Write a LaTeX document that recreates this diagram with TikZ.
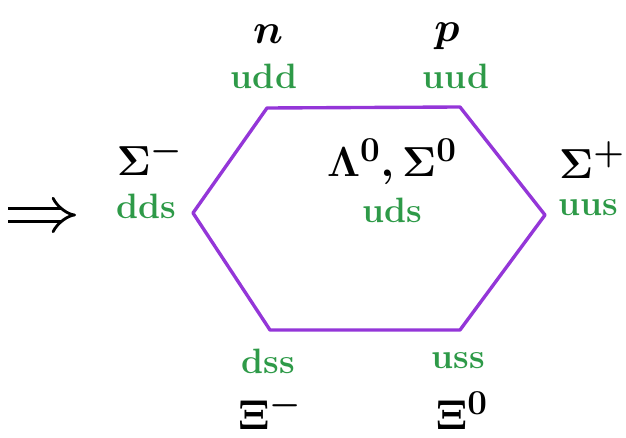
\documentclass[tikz,border=0pt]{standalone}
\usepackage{xcolor,tikz,amsmath}
\usetikzlibrary{arrows.meta,positioning}
\definecolor{quark}{HTML}{2E9A48}
\definecolor{octet}{HTML}{9436D8}

\begin{document}
\begin{tikzpicture}[x=0.025cm, y=-0.025cm]
  \tikzset{
    qk/.style={text=quark, font=\LARGE\bfseries, scale=1.45, transform shape, inner sep=1pt},
    hadron/.style={font=\Huge\boldmath, scale=1.2, transform shape, inner sep=1pt}
  }
  \useasboundingbox (0,0) rectangle (626,438);
  % corners of the octet
  \coordinate (TL) at (267,108);
  \coordinate (TR) at (460,107);
  \coordinate (R) at (545,215);
  \coordinate (BR) at (460,330);
  \coordinate (BL) at (270,330);
  \coordinate (L) at (193,213);
  \draw[octet, line width=2.4pt, line join=round] (TL) -- (TR) -- (R) -- (BR) -- (BL) -- (L) -- cycle;
  % quark content and particle names
  \node[qk] (udd) at (264,76) {udd};
  \node[hadron] (n) at (268,34) {$n$};
  \node[qk] (uud) at (456,76) {uud};
  \node[hadron] (p) at (447,36) {$p$};
  \node[qk] (dds) at (146,206) {dds};
  \node[hadron] (Sm) at (150,157) {$\Sigma^-$};
  \node[qk] (uds) at (392,210) {uds};
  \node[hadron] (L0) at (392,162) {$\Lambda^0,\Sigma^0$};
  \node[qk] (uus) at (588,208) {uus};
  \node[hadron] (Sp) at (592,160) {$\Sigma^+$};
  \node[qk] (dss) at (268,361) {dss};
  \node[hadron] (Xm) at (270,411) {$\Xi^-$};
  \node[qk] (uss) at (458,361) {uss};
  \node[hadron] (X0) at (462,411) {$\Xi^0$};
  % arrow pointing in
  \coordinate (arrS) at (8,215);
  \coordinate (arrE) at (76,215);
  \draw[line width=2pt, double distance=7pt, -{Implies}] (arrS) -- (arrE);
\end{tikzpicture}
\end{document}
